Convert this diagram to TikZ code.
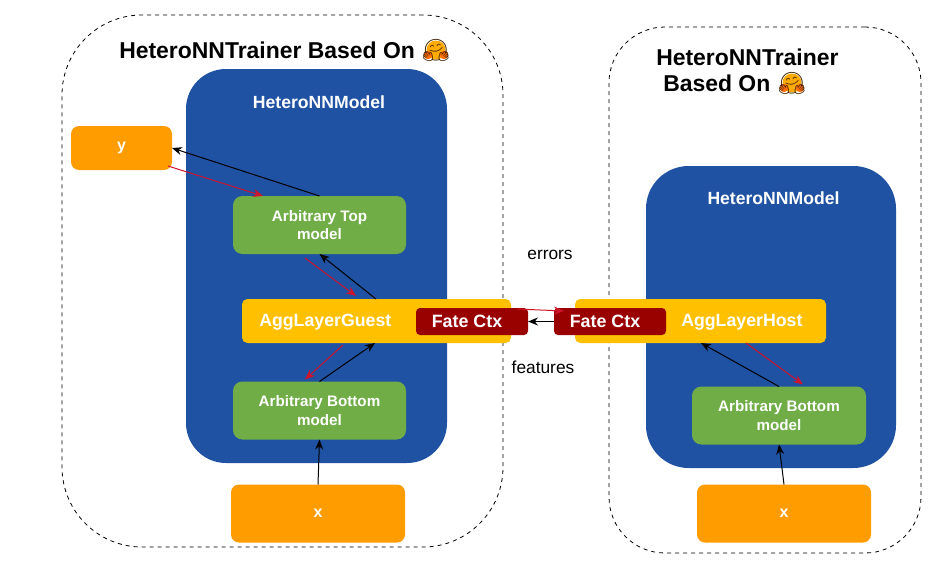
\documentclass[tikz,border=0pt]{standalone}
\usepackage{fontspec}
\setmainfont{Liberation Sans}
\newfontfamily\emojifont{Noto Emoji}
\usetikzlibrary{calc,arrows.meta}
\definecolor{blueb}{HTML}{1F52A2}
\definecolor{orangeb}{HTML}{FF9C00}
\definecolor{greenb}{HTML}{70AD47}
\definecolor{goldb}{HTML}{FFC000}
\definecolor{redb}{HTML}{990000}
\definecolor{arrowred}{HTML}{D0142C}
\tikzset{
  x=0.75pt,y=-0.75pt,
  panel/.style={draw=black,dashed,line width=0.6pt,inner sep=0pt,outer sep=0pt},
  modelpanel/.style={fill=blueb,inner sep=0pt,outer sep=0pt},
  databox/.style={fill=orangeb,rounded corners=6pt,inner sep=0pt,outer sep=0pt,text=white,font=\fontsize{12pt}{14pt}\selectfont\bfseries,align=center},
  netbox/.style={fill=greenb,rounded corners=7pt,inner sep=0pt,outer sep=0pt,text=white,font=\fontsize{11.4pt}{14pt}\selectfont\bfseries,align=center},
  aggbox/.style={fill=goldb,rounded corners=4pt,inner sep=0pt,outer sep=0pt},
  ctxbox/.style={fill=redb,rounded corners=3pt,inner sep=0pt,outer sep=0pt,text=white,font=\fontsize{13.4pt}{15pt}\selectfont\bfseries},
  heading/.style={font=\fontsize{17.2pt}{20pt}\selectfont\bfseries,inner sep=0pt,anchor=west},
  modeltitle/.style={text=white,font=\fontsize{13.2pt}{14pt}\selectfont\bfseries,inner sep=0pt},
  aggtitle/.style={text=white,font=\fontsize{13.3pt}{15pt}\selectfont\bfseries,inner sep=0pt,anchor=west},
  note/.style={font=\fontsize{13pt}{14pt}\selectfont,inner sep=0pt},
  flow/.style={-{Stealth[length=7.5pt,width=6pt]},line width=0.75pt,black},
  back/.style={-{Stealth[length=7.5pt,width=6pt]},line width=0.75pt,arrowred},
}
% hugging-face emoji: #1 = name, #2 = x, #3 = y
\newcommand{\hugface}[3]{%
  \fill[orangeb!85!yellow] (#2,#3) circle (9.5*0.75pt);
  \fill[orange!85!red] (#2-8,#3+5) circle (4.2*0.75pt) (#2+8,#3+5) circle (4.2*0.75pt);
  \node[inner sep=0pt,text=black!75!orange,font=\emojifont\fontsize{16pt}{16pt}\selectfont] (#1) at (#2,#3) {🤗};
}
\begin{document}
\begin{tikzpicture}
\useasboundingbox (0,0) rectangle (940,571);
\fill[white] (0,0) rectangle (940,571);
% panels
\node[panel,rounded corners=60pt,minimum width=441*0.75pt,minimum height=532*0.75pt] (guestpanel) at (282.5,281) {};
\node[panel,rounded corners=42pt,minimum width=312*0.75pt,minimum height=526*0.75pt] (hostpanel) at (765,290) {};
\node[modelpanel,rounded corners=30pt,minimum width=261*0.75pt,minimum height=394*0.75pt] (guestmodel) at (316.5,266) {};
\node[modelpanel,rounded corners=32pt,minimum width=250*0.75pt,minimum height=302*0.75pt] (hostmodel) at (771,317) {};
% titles
\node[heading] (guesttitle) at (119,50.5) {HeteroNNTrainer Based On};
\hugface{guestemoji}{436}{50}
\node[heading] (hosttitle) at (656,57) {HeteroNNTrainer};
\node[heading] (hosttitleb) at (663,83) {Based On};
\hugface{hostemoji}{792}{83}
\node[modeltitle] (guestmodeltitle) at (319,102) {HeteroNNModel};
\node[modeltitle] (hostmodeltitle) at (773.5,198) {HeteroNNModel};
% boxes
\node[databox,minimum width=101*0.75pt,minimum height=44*0.75pt] (y) at (121.5,148) {\raisebox{-1.5pt}{y}};
\node[netbox,minimum width=173*0.75pt,minimum height=58*0.75pt] (top) at (319.5,225) {Arbitrary Top\\model};
\node[aggbox,minimum width=269*0.75pt,minimum height=44*0.75pt] (agguest) at (376.5,321) {};
\node[aggbox,minimum width=251*0.75pt,minimum height=44*0.75pt] (aghost) at (700.5,321) {};
\node[aggtitle] (agguesttitle) at (259,322.5) {AggLayerGuest};
\node[aggtitle] (aghosttitle) at (681,322.5) {AggLayerHost};
\node[ctxbox,minimum width=112*0.75pt,minimum height=27*0.75pt] (ctxg) at (472,321.5) {Fate Ctx\kern7.5pt};
\node[ctxbox,minimum width=112*0.75pt,minimum height=27*0.75pt] (ctxh) at (610,321.5) {Fate Ctx\kern7.5pt};
\node[netbox,minimum width=173*0.75pt,minimum height=58*0.75pt] (bottomg) at (319.5,410.5) {\raisebox{-0.7pt}{Arbitrary Bottom}\\\raisebox{-0.7pt}{model}};
\node[netbox,minimum width=174*0.75pt,minimum height=58*0.75pt] (bottomh) at (779,415.5) {\raisebox{-0.7pt}{Arbitrary Bottom}\\\raisebox{-0.7pt}{model}};
\node[databox,minimum width=174*0.75pt,minimum height=58*0.75pt] (xg) at (318,513.5) {\raisebox{-0.8pt}{x}};
\node[databox,minimum width=174*0.75pt,minimum height=58*0.75pt] (xh) at (784,513.5) {\raisebox{-0.8pt}{x}};
% labels
\node[note] (errors) at (550,255) {errors};
\node[note] (features) at (543,367) {features};
% guest connectors
\draw[flow] (top.north) -- (y.east);
\draw[back] ($(y.south east)+(-4,-4)$) -- ($(top.north west)+(30,0)$);
\draw[flow] ($(agguest.north west)+(134,0)$) -- (top.south);
\draw[back] ($(top.south west)+(72,4)$) -- ($(agguest.north west)+(114,-3)$);
\draw[flow] (bottomg.north) -- ($(agguest.south west)+(133,0)$);
\draw[back] ($(agguest.south west)+(101,2)$) -- ($(bottomg.north west)+(72,-2)$);
\draw[flow] (xg.north) -- (bottomg.south);
% across
\draw[flow] (ctxh.west) -- (ctxg.east);
\draw[back] ($(ctxg.north east)+(-11,1)$) -- ($(ctxh.north west)+(10,3)$);
% host connectors
\draw[flow] (bottomh.north) -- ($(aghost.south west)+(126,0)$);
\draw[back] ($(aghost.south west)+(171,0)$) -- ($(bottomh.north west)+(111,-2)$);
\draw[flow] (xh.north) -- (bottomh.south);
\end{tikzpicture}
\end{document}
